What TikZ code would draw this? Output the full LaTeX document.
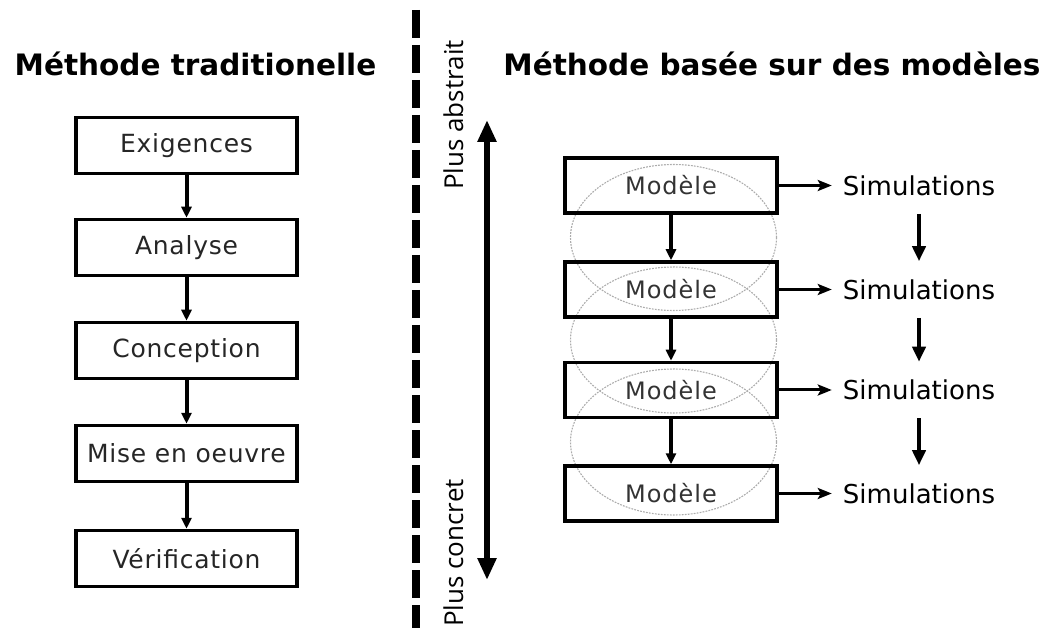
\documentclass[tikz,border=0pt]{standalone}
\usepackage{fontspec}
\setmainfont{DejaVu Sans}
\newfontfamily\sidefont{Open Sans}
\newfontfamily\boxfont[LetterSpace=3]{DejaVu Sans}
\newfontfamily\modfont[LetterSpace=4]{DejaVu Sans}
\usetikzlibrary{arrows.meta}
\tikzset{
  etape/.style={draw, line width=3.5pt, minimum width=221pt, minimum height=56pt, inner sep=0pt, text=black!85, font=\boxfont\fontsize{25}{29}\selectfont},
  modele/.style={draw, line width=3.5pt, minimum width=212pt, minimum height=55pt, inner sep=0pt, text=black!80, font=\modfont\fontsize{24}{28}\selectfont},
  simu/.style={inner xsep=11pt, inner ysep=18pt, font=\fontsize{26}{30}\selectfont},
  titre/.style={anchor=base, inner sep=0pt, font=\bfseries\fontsize{29.5}{34}\selectfont},
  cote/.style={rotate=90, anchor=base west, inner sep=0pt, font=\sidefont\fontsize{26}{30}\selectfont},
  enveloppe/.style={gray!65, line width=1.1pt, dash pattern=on 1.8pt off 1.2pt},
  fleche/.style={line width=4pt, -{Triangle[length=11pt,width=10pt]}},
  sortie/.style={line width=3pt, -{Stealth[length=14pt,width=11pt,inset=3pt]}},
  suite/.style={line width=4pt, -{Triangle[length=15pt,width=13pt]}}
}
\begin{document}
\begin{tikzpicture}[x=1pt, y=-1pt]
\useasboundingbox (0,0) rectangle (1050,628);
% titres
\node[titre] (tl) at (195.5,76) {Méthode traditionelle};
\node[titre] (tr) at (772,76) {Méthode basée sur des modèles};
% separation
\coordinate (d1) at (416,10);
\coordinate (d2) at (416,628);
\draw[line width=8pt, dash pattern=on 28pt off 7pt] (d1) -- (d2);
% methode traditionelle
\node[etape] (e1) at (186.5,145.5) {Exigences};
\node[etape] (e2) at (186.5,247.5) {Analyse};
\node[etape] (e3) at (186.5,350.5) {Conception};
\node[etape] (e4) at (186.5,453.5) {Mise en oeuvre};
\node[etape] (e5) at (186.5,558.5) {Vérification};
\foreach \a/\b in {e1/e2,e2/e3,e3/e4,e4/e5}
  \draw[fleche] (\a.south) -- (\b.north);
% abstrait / concret
\node[cote] (pa) at (463,190) {Plus abstrait};
\node[cote] (pc) at (463,627) {Plus concret};
\coordinate (haut) at (487,120);
\coordinate (bas) at (487,580);
\draw[line width=6pt, {Triangle[length=22pt,width=18pt]}-{Triangle[length=22pt,width=18pt]}] (haut) -- (bas);
% methode basee sur des modeles
\draw[enveloppe] (673.5,237.5) ellipse [x radius=103pt, y radius=73pt];
\draw[enveloppe] (673.5,340) ellipse [x radius=103pt, y radius=73pt];
\draw[enveloppe] (673.5,442) ellipse [x radius=103pt, y radius=73pt];
\node[modele] (m1) at (671,185.5) {Modèle};
\node[modele] (m2) at (671,289.5) {Modèle};
\node[modele] (m3) at (671,390) {Modèle};
\node[modele] (m4) at (671,493.5) {Modèle};
\node[simu] (s1) at (919,185.5) {Simulations};
\node[simu] (s2) at (919,289.5) {Simulations};
\node[simu] (s3) at (919,390) {Simulations};
\node[simu] (s4) at (919,493.5) {Simulations};
\foreach \a/\b in {m1/m2,m2/m3,m3/m4}
  \draw[fleche] (\a.south) -- (\b.north);
\foreach \i in {1,...,4}
  \draw[sortie] (m\i.east) -- (s\i.west);
\foreach \a/\b in {s1/s2,s2/s3,s3/s4}
  \draw[suite] (\a.south) -- (\b.north);
\end{tikzpicture}
\end{document}
